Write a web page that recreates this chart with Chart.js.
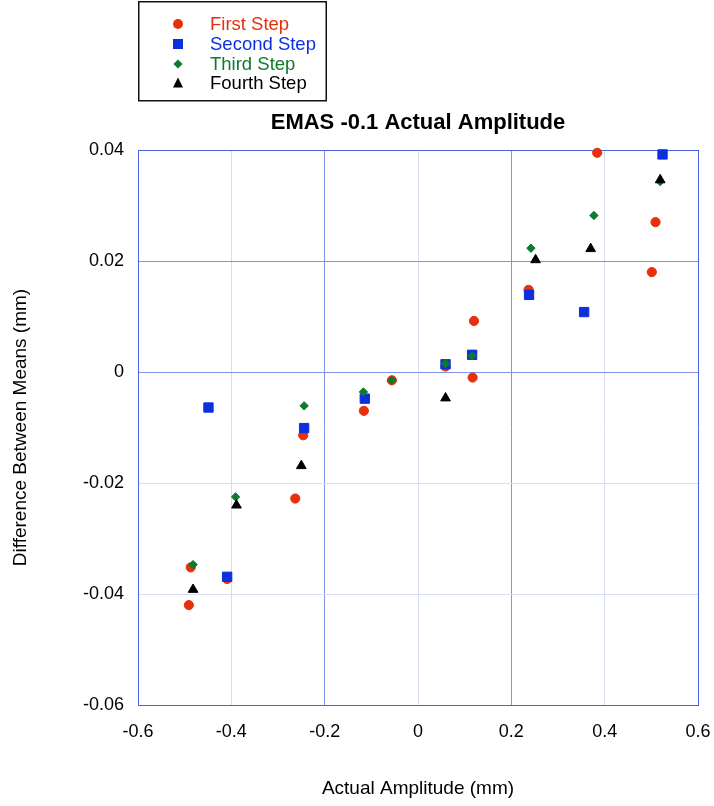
<!DOCTYPE html>
<html>
<head>
<meta charset="utf-8">
<script src="https://cdn.jsdelivr.net/npm/chart.js@4"></script>
<style>
  html, body { margin: 0; padding: 0; background: #fff; overflow: hidden; }
  #wrap { width: 714px; height: 806px; position: relative; }
  #wrap canvas { display: block; }
</style>
</head>
<body>
<div id="wrap"><canvas id="emasChart"></canvas></div>
<script>
// series values
const firstX  = [-0.491, -0.487, -0.409, -0.263, -0.246, -0.116, -0.056, 0.059, 0.117, 0.120, 0.237, 0.384, 0.501, 0.509];
const firstY  = [-0.0420, -0.0352, -0.0373, -0.0228, -0.0114, -0.0070, -0.0015, 0.0010, -0.0010, 0.0092, 0.0148, 0.0395, 0.0180, 0.0270];
const secondX = [-0.449, -0.409, -0.244, -0.114, 0.059, 0.116, 0.238, 0.356, 0.524];
const secondY = [-0.0064, -0.0369, -0.0101, -0.0048, 0.0014, 0.0031, 0.0139, 0.0108, 0.0392];
const thirdX  = [-0.482, -0.391, -0.244, -0.117, -0.056, 0.059, 0.116, 0.242, 0.377, 0.519];
const thirdY  = [-0.0347, -0.0225, -0.0061, -0.0036, -0.0015, 0.0015, 0.0029, 0.0223, 0.0282, 0.0343];
const fourthX = [-0.482, -0.389, -0.250, 0.059, 0.252, 0.370, 0.519];
const fourthY = [-0.0392, -0.0240, -0.0169, -0.0047, 0.0202, 0.0222, 0.0346];

const seriesNames = ['First Step', 'Second Step', 'Third Step', 'Fourth Step'];
const xTickLabels = ['-0.6', '-0.4', '-0.2', '0', '0.2', '0.4', '0.6'];
const yTickLabels = ['-0.06', '-0.04', '-0.02', '0', '0.02', '0.04'];

const FONT = "'Liberation Sans', Arial, Helvetica, sans-serif";
const RED = '#e8300c', BLUE = '#0c30e0', GREEN = '#0d7a2c', BLACK = '#000000';
const BORDER = '#4a62e0', DARKGRID = '#8192e8', LIGHTGRID = '#d6dbf6';

function pts(xs, ys) {
  return xs.map((x, i) => ({ x: x, y: ys[i] }));
}

const styles = [
  { color: RED, shape: 'circle', r: 4.6 },
  { color: BLUE, shape: 'rect', r: 6.6 },
  { color: GREEN, shape: 'rectRot', r: 4.2 },
  { color: BLACK, shape: 'triangle', r: 5.6 }
];
const allData = [pts(firstX, firstY), pts(secondX, secondY), pts(thirdX, thirdY), pts(fourthX, fourthY)];

const datasets = seriesNames.map((name, i) => ({
  label: name,
  data: allData[i],
  pointStyle: styles[i].shape,
  pointRadius: styles[i].r,
  pointHoverRadius: styles[i].r,
  backgroundColor: styles[i].color,
  borderColor: styles[i].color,
  borderWidth: 1,
  clip: false,
  order: 4 - i
}));

function near(v, t) { return Math.abs(v - t) < 1e-9; }

// legend box and chart title drawn above the plot
const headerPlugin = {
  id: 'header',
  afterDraw(chart) {
    const ctx = chart.ctx;
    const area = chart.chartArea;
    ctx.save();
    // title
    ctx.fillStyle = '#000';
    ctx.font = 'bold 22px ' + FONT;
    ctx.textAlign = 'center';
    ctx.textBaseline = 'middle';
    ctx.fillText('EMAS -0.1 Actual Amplitude', (area.left + area.right) / 2, 123);
    // legend box
    ctx.strokeStyle = '#111';
    ctx.lineWidth = 1.5;
    ctx.strokeRect(138.75, 1.75, 187.5, 99);
    const rows = [24, 44, 64, 83];
    ctx.font = '18.5px ' + FONT;
    ctx.textAlign = 'left';
    styles.forEach((s, i) => {
      const x = 178, y = rows[i];
      ctx.fillStyle = s.color;
      ctx.beginPath();
      if (s.shape === 'circle') {
        ctx.arc(x, y, 5, 0, Math.PI * 2);
      } else if (s.shape === 'rect') {
        ctx.rect(x - 5, y - 5, 10, 10);
      } else if (s.shape === 'rectRot') {
        ctx.moveTo(x - 4.6, y); ctx.lineTo(x, y - 4.6); ctx.lineTo(x + 4.6, y); ctx.lineTo(x, y + 4.6);
        ctx.closePath();
      } else {
        ctx.moveTo(x, y - 5.5); ctx.lineTo(x + 5, y + 4.5); ctx.lineTo(x - 5, y + 4.5);
        ctx.closePath();
      }
      ctx.fill();
      ctx.fillText(seriesNames[i], 210, y + 1);
    });
    ctx.restore();
  }
};

new Chart(document.getElementById('emasChart'), {
  type: 'scatter',
  data: { datasets: datasets },
  options: {
    responsive: true,
    maintainAspectRatio: false,
    animation: false,
    layout: { padding: { top: 150, right: 16, bottom: 0, left: 0 } },
    plugins: { legend: { display: false }, title: { display: false }, tooltip: { enabled: false } },
    scales: {
      x: {
        type: 'linear',
        min: -0.6,
        max: 0.6,
        afterFit(scale) { scale.height = 101; },
        ticks: {
          stepSize: 0.2,
          padding: 0,
          color: '#000',
          font: { family: FONT, size: 18 },
          callback: (v, i) => xTickLabels[i]
        },
        grid: {
          drawTicks: true,
          tickLength: 16,
          tickColor: 'rgba(0,0,0,0)',
          color: c => {
            const v = c.tick ? c.tick.value : 0;
            if (near(v, 0.6) || near(v, -0.6)) return BORDER;
            if (near(v, 0.2) || near(v, -0.2)) return DARKGRID;
            return LIGHTGRID;
          }
        },
        border: { color: BORDER, width: 1 },
        title: {
          display: true,
          text: 'Actual Amplitude (mm)',
          color: '#000',
          font: { family: FONT, size: 19 },
          padding: { top: 0, bottom: 6 }
        }
      },
      y: {
        type: 'linear',
        min: -0.06,
        max: 0.04,
        afterFit(scale) { scale.width = 138; },
        ticks: {
          stepSize: 0.02,
          padding: 14,
          color: '#000',
          font: { family: FONT, size: 18 },
          callback: (v, i) => yTickLabels[i]
        },
        grid: {
          drawTicks: false,
          color: c => {
            const v = c.tick ? c.tick.value : 0;
            if (near(v, 0.04) || near(v, -0.06)) return BORDER;
            if (near(v, 0) || near(v, 0.02)) return DARKGRID;
            return LIGHTGRID;
          }
        },
        border: { color: BORDER, width: 1 },
        title: {
          display: true,
          text: 'Difference Between Means (mm)',
          color: '#000',
          font: { family: FONT, size: 19 },
          padding: { top: 9, bottom: 0 }
        }
      }
    }
  },
  plugins: [headerPlugin]
});
</script>
</body>
</html>
